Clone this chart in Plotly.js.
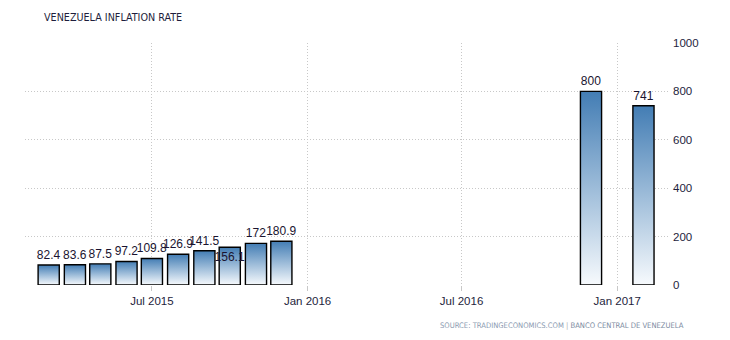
<!DOCTYPE html>
<html>
<head>
<meta charset="utf-8">
<script src="https://cdn.plot.ly/plotly-3.0.1.min.js"></script>
<style>html,body{margin:0;padding:0;background:#fff;}#chart{width:730px;height:340px;}</style>
</head>
<body>
<div id="chart"></div>
<script>
const dates = ['2015-03-01','2015-04-01','2015-05-01','2015-06-01','2015-07-01','2015-08-01','2015-09-01','2015-10-01','2015-11-01','2015-12-01','2016-12-01','2017-02-01'];
const values = [82.4, 83.6, 87.5, 97.2, 109.8, 126.9, 141.5, 156.1, 172, 180.9, 800, 741];
const labels = ['82.4','83.6','87.5','97.2','109.8','126.9','141.5','156.1','172','180.9','800','741'];
const labelPositions = ['outside','outside','outside','outside','outside','outside','outside','inside','outside','outside','outside','outside'];
const xTickVals = ['2015-07-01','2016-01-01','2016-07-01','2017-01-01'];
const xTickText = ['Jul 2015','Jan 2016','Jul 2016','Jan 2017'];
const yTickVals = [0, 200, 400, 600, 800, 1000];

const labelFont = {family: 'Liberation Sans, Arial, sans-serif', size: 12, color: '#1a1430'};

const trace = {
  type: 'bar',
  x: dates,
  y: values,
  width: 25 * 86400000,
  text: labels,
  textposition: labelPositions,
  textangle: 0,
  insidetextanchor: 'end',
  constraintext: 'none',
  textfont: labelFont,
  insidetextfont: labelFont,
  outsidetextfont: labelFont,
  cliponaxis: false,
  marker: {color: '#6f9cc6', line: {color: '#000', width: 1.4}},
  hoverinfo: 'x+y'
};

const layout = {
  width: 730, height: 340,
  margin: {l: 25, r: 62, t: 43, b: 55},
  paper_bgcolor: '#fff', plot_bgcolor: '#fff',
  showlegend: false,
  bargap: 0,
  title: {
    text: 'VENEZUELA INFLATION RATE',
    x: 44/730, xref: 'container', xanchor: 'left',
    y: 1 - 17/340, yref: 'container', yanchor: 'middle',
    font: {family: 'DejaVu Sans Condensed, DejaVu Sans, sans-serif', size: 10.7, color: '#1e1e3c'}
  },
  xaxis: {
    type: 'date',
    range: ['2015-02-01', '2017-03-02'],
    tickvals: xTickVals, ticktext: xTickText,
    showgrid: true, gridcolor: '#c8c8c8', griddash: '1px,2px', gridwidth: 1,
    ticks: 'outside', ticklen: 5, tickcolor: '#c8c8c8',
    showline: false, zeroline: false,
    tickfont: {family: 'Liberation Sans, Arial, sans-serif', size: 11.5, color: '#1e1e3c'}
  },
  yaxis: {
    side: 'right',
    range: [0, 1000],
    tickvals: yTickVals,
    showgrid: true, gridcolor: '#c8c8c8', griddash: '1px,2px', gridwidth: 1,
    zeroline: false, showline: false,
    ticks: '', ticklabelstandoff: 4,
    tickfont: {family: 'Liberation Sans, Arial, sans-serif', size: 11.5, color: '#1e1e3c'}
  },
  annotations: [{
    xref: 'paper', yref: 'paper',
    x: (686 - 25) / 643, xanchor: 'right',
    y: (285 - 325) / 242, yanchor: 'middle',
    showarrow: false,
    text: '<span style="color:#8a9ab0">SOURCE: TRADINGECONOMICS.COM</span><span style="color:#aaa"> | </span><span style="color:#7a8aa0">BANCO CENTRAL DE VENEZUELA</span>',
    font: {family: 'DejaVu Sans Condensed, DejaVu Sans, sans-serif', size: 7.6, color: '#8a9ab0'}
  }]
};

Plotly.newPlot('chart', [trace], layout, {displayModeBar: false, staticPlot: true}).then(function (gd) {
  const svg = gd.querySelector('.main-svg');
  const ns = 'http://www.w3.org/2000/svg';
  let defs = svg.querySelector('defs');
  if (!defs) { defs = document.createElementNS(ns, 'defs'); svg.insertBefore(defs, svg.firstChild); }
  const grad = document.createElementNS(ns, 'linearGradient');
  grad.setAttribute('id', 'barGrad');
  grad.setAttribute('x1', '0'); grad.setAttribute('y1', '0');
  grad.setAttribute('x2', '0'); grad.setAttribute('y2', '1');
  [['0', '#437db4'], ['0.5', '#9dbcd9'], ['1', '#f7fafd']].forEach(function (s) {
    const st = document.createElementNS(ns, 'stop');
    st.setAttribute('offset', s[0]); st.setAttribute('stop-color', s[1]);
    grad.appendChild(st);
  });
  defs.appendChild(grad);
  gd.querySelectorAll('.barlayer .point path').forEach(function (p) {
    p.style.fill = 'url(#barGrad)';
  });
});
</script>
</body>
</html>
